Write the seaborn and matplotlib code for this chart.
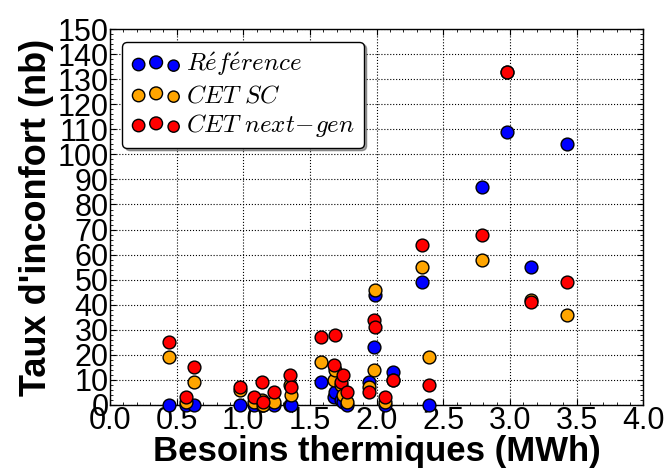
import matplotlib
matplotlib.use("Agg")
import matplotlib.pyplot as plt
import matplotlib.ticker as mtick
from matplotlib.collections import PathCollection
from matplotlib.legend_handler import HandlerPathCollection
import pandas as pd
import seaborn as sns

# Besoins thermiques (MWh) per building, and discomfort counts per system
besoins = [0.44, 0.57, 0.63, 0.975, 1.08, 1.14, 1.15, 1.23, 1.35, 1.36,
           1.58, 1.68, 1.69, 1.73, 1.75, 1.78, 1.94, 1.98, 1.99, 2.06,
           2.12, 2.34, 2.39, 2.79, 2.98, 3.16, 3.43]
reference = [0, 0, 0, 0, 0, 0, 0, 0, 0, 0,
             9, 3, 5, 2, 1, 0, 9, 23, 44, 0,
             13, 49, 0, 87, 109, 55, 104]
cet_sc = [19, 1, 9, 6, 1, 2, 0, 1, 8, 4,
          17, 10, 14, 8, 4, 1, 7, 14, 46, 1,
          10, 55, 19, 58, 133, 42, 36]
cet_ng = [25, 3, 15, 7, 3, 9, 1, 5, 12, 7,
          27, 16, 28, 9, 12, 5, 5, 34, 31, 3,
          10, 64, 8, 68, 133, 41, 49]

series_labels = [r"$R\acute{e}f\acute{e}rence$", r"$CET\ SC$", r"$CET\ next\!-\!gen$"]
series_colors = ["blue", "orange", "red"]

sns.set_style("white")
plt.rcParams["font.family"] = ["Liberation Sans", "DejaVu Sans"]
plt.rcParams["mathtext.fontset"] = "cm"
plt.rcParams["text.color"] = "black"
plt.rcParams["axes.labelcolor"] = "black"
plt.rcParams["xtick.color"] = "black"
plt.rcParams["ytick.color"] = "black"

fig = plt.figure(figsize=(6.7, 4.69), dpi=100)
ax = fig.add_axes([0.164, 0.1365, 0.796, 0.8015])

for vals, label, color in zip([reference, cet_sc, cet_ng], series_labels, series_colors):
    df = pd.DataFrame({"x": besoins, "y": vals})
    sns.scatterplot(data=df, x="x", y="y", color=color, s=85, edgecolor="black",
                    linewidth=1, label=label, clip_on=False, zorder=3, ax=ax)

ax.set_xlim(0, 4)
ax.set_ylim(0, 150)
ax.xaxis.set_major_locator(mtick.MultipleLocator(0.5))
ax.xaxis.set_major_formatter(mtick.FormatStrFormatter("%.1f"))
ax.yaxis.set_major_locator(mtick.MultipleLocator(10))
ax.xaxis.set_minor_locator(mtick.AutoMinorLocator(5))
ax.yaxis.set_minor_locator(mtick.AutoMinorLocator(5))
ax.tick_params(which="both", direction="in", top=True, right=True, bottom=True, left=True)
ax.tick_params(which="major", length=4, labelsize=22, pad=1)
ax.tick_params(which="minor", length=2)
ax.grid(True, which="major", linestyle=":", color="black", linewidth=0.8)
ax.set_axisbelow(True)
for sp in ax.spines.values():
    sp.set_color("black")
    sp.set_linewidth(1)

ax.set_xlabel("Besoins thermiques (MWh)", fontsize=25, fontweight="bold", labelpad=-1)
ax.set_ylabel("Taux d'inconfort (nb)", fontsize=26, fontweight="bold", labelpad=2)

handles = [c for c in ax.collections if isinstance(c, PathCollection)]
leg = ax.legend(handles, series_labels, loc="upper left", fontsize=18, scatterpoints=3,
                scatteryoffsets=[0.375, 0.5, 0.3125], fancybox=True, shadow=True,
                framealpha=1, edgecolor="black", borderpad=0.35, handletextpad=0.2,
                labelspacing=0.2, handlelength=2.0, borderaxespad=0.5,
                handler_map={PathCollection: HandlerPathCollection(sizes=[80, 85, 65])})

fig.savefig("out.png", dpi=100)
